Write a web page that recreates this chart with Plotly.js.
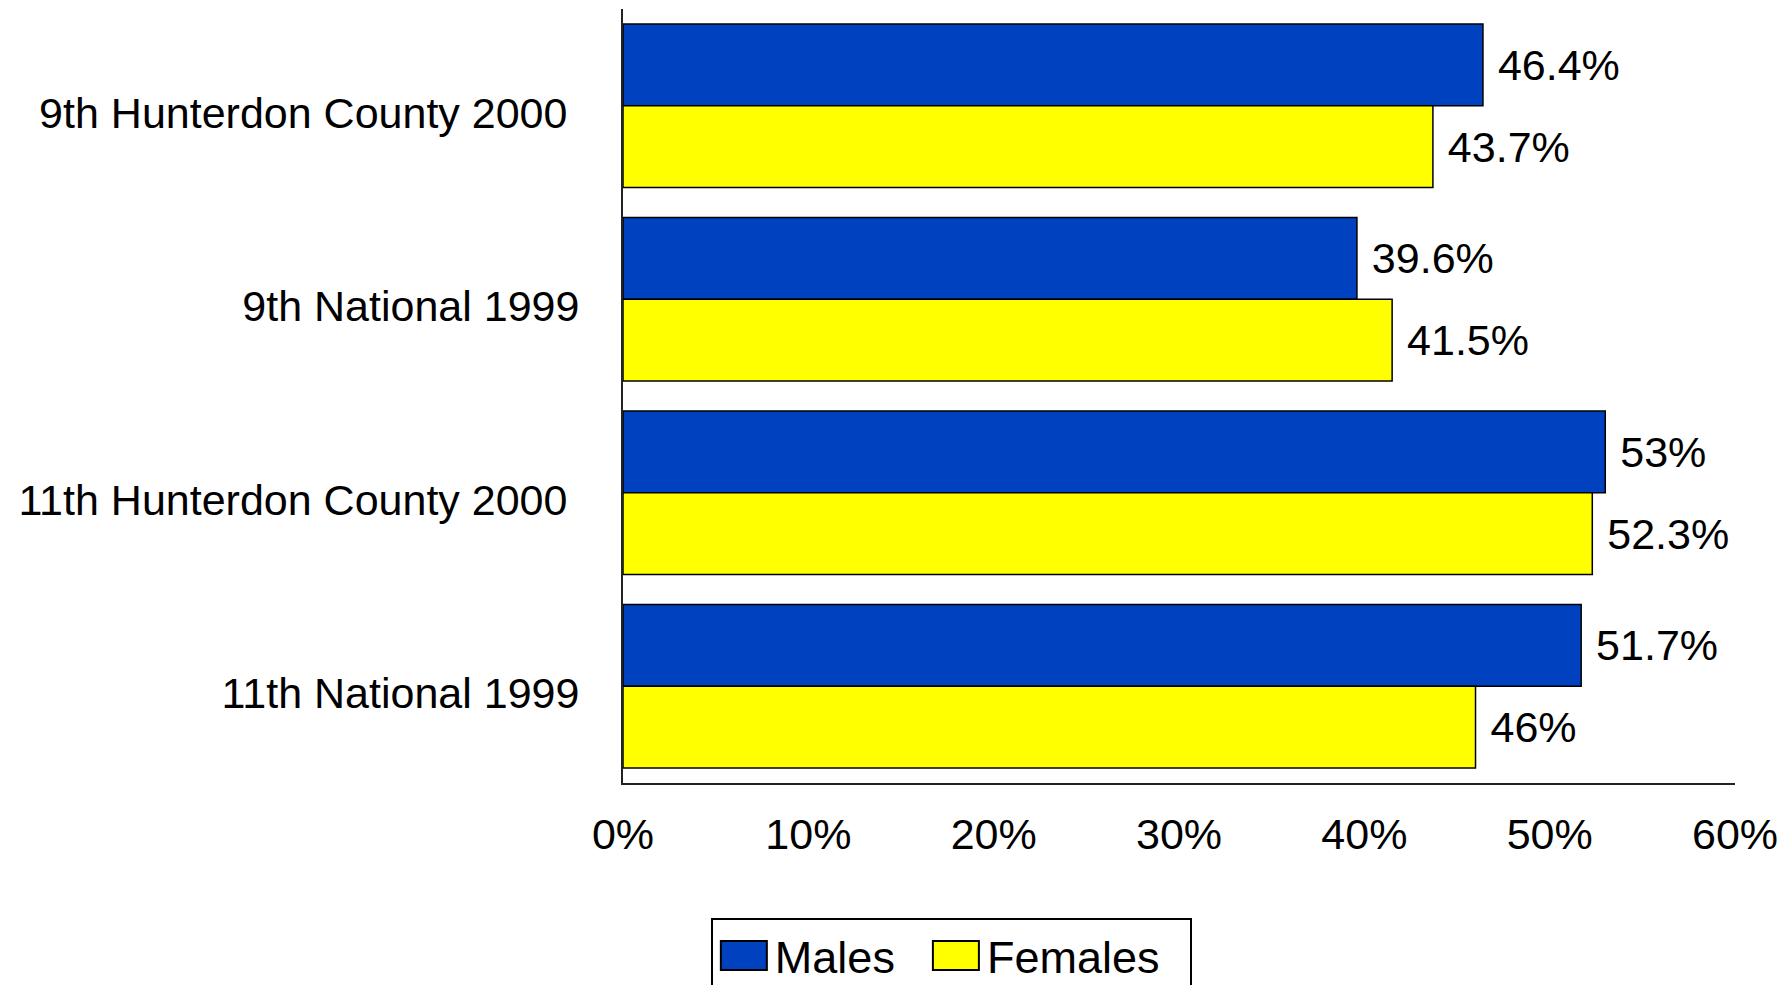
<!DOCTYPE html>
<html>
<head>
<meta charset="utf-8">
<script src="https://cdn.plot.ly/plotly-3.0.1.min.js"></script>
<style>html,body{margin:0;padding:0;background:#fff;}#chart{width:1792px;height:985px;}</style>
</head>
<body>
<div id="chart"></div>
<script>
const categories = ["9th Hunterdon County 2000\u00a0", "9th National 1999", "11th Hunterdon County 2000\u00a0", "11th National 1999"];
const males = [46.4, 39.6, 53, 51.7];
const females = [43.7, 41.5, 52.3, 46];
const seriesNames = ["Males\u00a0\u00a0", "Females\u00a0\u00a0"];
const colors = ["#0041BF", "#FFFF00"];

const FONT = "Liberation Sans, Arial, sans-serif";
function mk(vals, i) {
  return {
    type: "bar", orientation: "h", name: seriesNames[i],
    y: categories, x: vals,
    text: vals.map(v => "\u00a0" + v + "%"),
    textposition: "outside", cliponaxis: false,
    textfont: {family: FONT, size: 43, color: "#000"},
    marker: {color: colors[i], line: {color: "#000", width: 1.5}},
    hoverinfo: "none"
  };
}
const data = [mk(males, 0), mk(females, 1)];
const layout = {
  width: 1792, height: 985,
  margin: {l: 623, r: 57, t: 9, b: 202, autoexpand: false},
  paper_bgcolor: "#fff", plot_bgcolor: "#fff",
  font: {family: FONT, size: 43, color: "#000"},
  barmode: "group", bargap: 0.155, bargroupgap: 0,
  showlegend: true,
  legend: {orientation: "h", x: 0.079, xanchor: "left", y: -0.174, yanchor: "top",
           bordercolor: "#000", borderwidth: 2, itemwidth: 52,
           font: {family: FONT, size: 45, color: "#000"},
           traceorder: "normal"},
  xaxis: {range: [0, 60], dtick: 10, tick0: 0, ticksuffix: "%", showgrid: false, zeroline: false,
          showline: true, linecolor: "#222", linewidth: 2, ticks: "", ticklabelstandoff: 12,
          tickfont: {family: FONT, size: 43, color: "#000"}},
  yaxis: {type: "category", autorange: "reversed", showgrid: false, zeroline: false,
          showline: true, linecolor: "#222", linewidth: 2, ticks: "", ticklabelstandoff: 33,
          ticklabelshift: -7,
          tickfont: {family: FONT, size: 43, color: "#000"}}
};
Plotly.newPlot("chart", data, layout, {displayModeBar: false, staticPlot: true}).then(function (gd) {
  // enlarge legend swatches to match the reference's big rectangles
  gd.querySelectorAll(".legend .legendpoints path").forEach(function (p) {
    p.setAttribute("d", "M23,14.5H-23V-14.5H23Z");
    p.style.strokeWidth = "2px";
  });
});
</script>
</body>
</html>
